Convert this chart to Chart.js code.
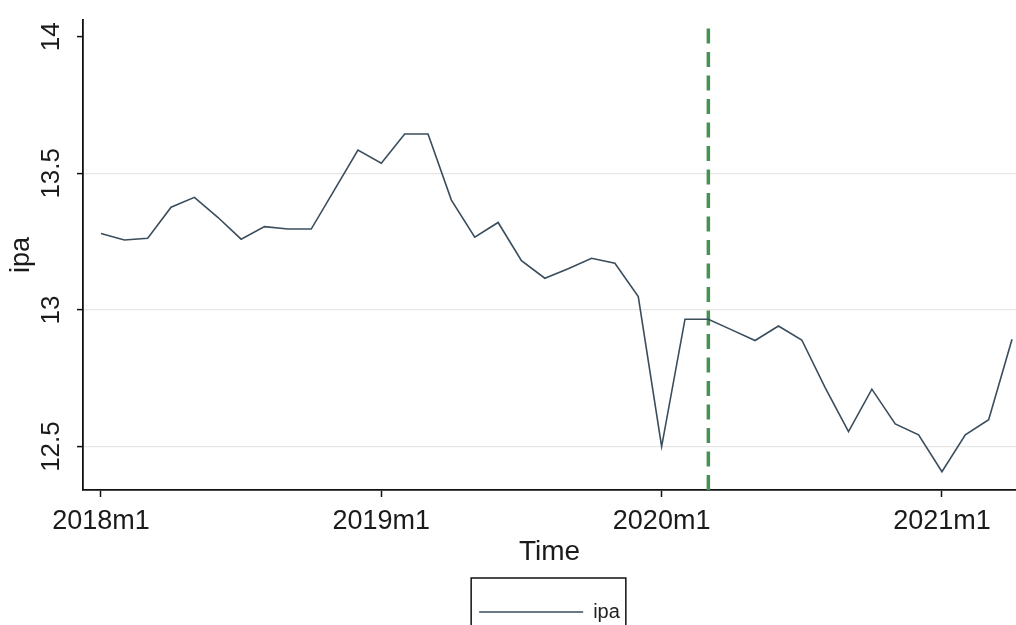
<!DOCTYPE html>
<html>
<head>
<meta charset="utf-8">
<script src="https://cdn.jsdelivr.net/npm/chart.js@4.4.1/dist/chart.umd.min.js"></script>
<style>
  html, body { margin: 0; padding: 0; background: #fff; overflow: hidden; }
  #wrap { width: 1016px; height: 660px; }
</style>
</head>
<body>
<div id="wrap"><canvas id="ipaChart" width="1016" height="660"></canvas></div>
<script>
// ---- monthly series ----
const months = [
  "2018m1", "2018m2", "2018m3", "2018m4", "2018m5", "2018m6", "2018m7", "2018m8", "2018m9", "2018m10", "2018m11", "2018m12",
  "2019m1", "2019m2", "2019m3", "2019m4", "2019m5", "2019m6", "2019m7", "2019m8", "2019m9", "2019m10", "2019m11", "2019m12",
  "2020m1", "2020m2", "2020m3", "2020m4", "2020m5", "2020m6", "2020m7", "2020m8", "2020m9", "2020m10", "2020m11", "2020m12",
  "2021m1", "2021m2", "2021m3", "2021m4"
];

const ipa = [
  13.28, 13.256, 13.262, 13.376, 13.412, 13.339, 13.259, 13.305, 13.296, 13.296, 13.44, 13.585,
  13.537, 13.644, 13.644, 13.402, 13.266, 13.32, 13.18, 13.116, 13.151, 13.189, 13.171, 13.049,
  12.50, 12.966, 12.966, 12.927, 12.888, 12.941, 12.89, 12.716, 12.555, 12.71, 12.583, 12.543,
  12.408, 12.543, 12.598, 12.893
];

const xTickLabels = ["2018m1", "2019m1", "2020m1", "2021m1"];
const yTicks = [12.5, 13, 13.5, 14];
const eventMonth = "2020m3";   // green dashed reference line
const yRange = [12.341, 14.061];
const eventLineTop = 14.046;

const font = "'Liberation Sans', Arial, sans-serif";
const eventIdx = months.indexOf(eventMonth);

// legend frame like the Stata box
const legendFrame = {
  id: "legendFrame",
  afterDraw(chart) {
    const lg = chart.legend;
    if (!lg || !lg.legendHitBoxes.length) return;
    const hb = lg.legendHitBoxes[0];
    const cy = hb.top + hb.height / 2;
    const ctx = chart.ctx;
    ctx.save();
    ctx.strokeStyle = "#111";
    ctx.lineWidth = 1.5;
    ctx.strokeRect(hb.left - 8, cy - 34, hb.width + 14, 70);
    ctx.restore();
  }
};

new Chart(document.getElementById("ipaChart"), {
  type: "line",
  data: {
    datasets: [
      {
        label: "ipa",
        data: ipa.map((v, i) => ({ x: i, y: v })),
        borderColor: "#3a4d5c",
        backgroundColor: "#3a4d5c",
        borderWidth: 1.6,
        pointRadius: 0,
        tension: 0
      },
      {
        label: "event",
        data: [{ x: eventIdx, y: yRange[0] }, { x: eventIdx, y: eventLineTop }],
        borderColor: "#459352",
        borderWidth: 3.5,
        borderDash: [15, 8.5],
        pointRadius: 0
      }
    ]
  },
  options: {
    responsive: false,
    animation: false,
    devicePixelRatio: 1,
    layout: { padding: { left: 0, right: 0, top: 20, bottom: 28 } },
    plugins: {
      legend: {
        position: "bottom",
        fullSize: false,
        labels: {
          filter: item => item.datasetIndex === 0,
          usePointStyle: true,
          pointStyle: "line",
          pointStyleWidth: 104,
          padding: 10,
          color: "#222",
          font: { family: font, size: 20 }
        }
      },
      tooltip: { enabled: false }
    },
    scales: {
      x: {
        type: "linear",
        min: -0.77,
        max: 39.17,
        afterBuildTicks: scale => {
          scale.ticks = xTickLabels.map(l => ({ value: months.indexOf(l) }));
        },
        afterFit: scale => { scale.height = 102; },
        ticks: {
          callback: v => months[v],
          color: "#1a1a1a",
          padding: 8,
          maxRotation: 0,
          font: { family: font, size: 27 }
        },
        grid: { drawOnChartArea: false, drawTicks: true, tickLength: 7, tickColor: "#111", tickWidth: 1.5 },
        border: { color: "#111", width: 1.8 },
        title: {
          display: true,
          text: "Time",
          color: "#1a1a1a",
          padding: { top: 0, bottom: 23 },
          font: { family: font, size: 28 }
        }
      },
      y: {
        min: yRange[0],
        max: yRange[1],
        afterBuildTicks: scale => {
          scale.ticks = yTicks.map(v => ({ value: v }));
        },
        afterFit: scale => { scale.width = 83; },
        ticks: {
          callback: v => String(v),
          minRotation: 90,
          maxRotation: 90,
          crossAlign: "center",
          padding: 0,
          color: "#1a1a1a",
          font: { family: font, size: 26 }
        },
        grid: {
          color: ctx => (ctx.tick && ctx.tick.value === 14 ? "rgba(0,0,0,0)" : "#e6e6e6"),
          lineWidth: 1.2,
          tickLength: 6,
          tickColor: "#111",
          tickWidth: 1.5
        },
        border: { color: "#111", width: 1.8 },
        title: {
          display: true,
          text: "ipa",
          color: "#1a1a1a",
          padding: { top: 5, bottom: 0 },
          font: { family: font, size: 27 }
        }
      }
    }
  },
  plugins: [legendFrame]
});
</script>
</body>
</html>
